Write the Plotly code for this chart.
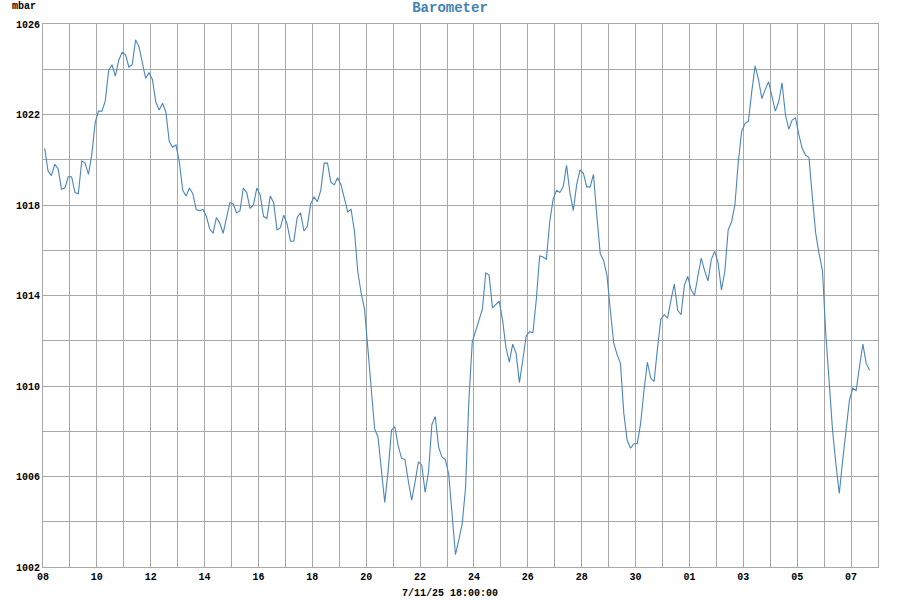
import plotly.graph_objects as go
import pandas as pd

# 3-hourly barometer readings (mbar), first sample 8 Oct 01:30
inicio = "2025-10-08 01:30"
presion = [
    1020.5, 1019.5, 1019.3, 1019.8, 1019.6, 1018.7, 1018.75, 1019.25,
    1019.25, 1018.55, 1018.5, 1019.95, 1019.85, 1019.35, 1020.25, 1021.65,
    1022.15, 1022.15, 1022.6, 1023.95, 1024.2, 1023.7, 1024.4, 1024.75,
    1024.65, 1024.1, 1024.2, 1025.3, 1025.0, 1024.3, 1023.6, 1023.85,
    1023.55, 1022.55, 1022.2, 1022.5, 1022.1, 1020.8, 1020.55, 1020.65,
    1019.9, 1018.65, 1018.4, 1018.75, 1018.5, 1017.8, 1017.75, 1017.8,
    1017.5, 1016.95, 1016.75, 1017.45, 1017.2, 1016.75, 1017.45, 1018.1,
    1018.05, 1017.65, 1017.75, 1018.75, 1018.55, 1017.85, 1018.0, 1018.75,
    1018.45, 1017.5, 1017.4, 1018.4, 1018.1, 1016.9, 1017.0, 1017.55,
    1017.15, 1016.4, 1016.4, 1017.45, 1017.65, 1016.85, 1017.05, 1018.05,
    1018.35, 1018.15, 1018.65, 1019.85, 1019.85, 1019.0, 1018.9, 1019.2,
    1018.9, 1018.25, 1017.7, 1017.8, 1016.85, 1015.05, 1014.1, 1013.4,
    1011.6, 1009.8, 1008.1, 1007.75, 1006.25, 1004.85, 1006.25, 1008.05,
    1008.2, 1007.35, 1006.8, 1006.75, 1005.8, 1004.95, 1005.75, 1006.65,
    1006.5, 1005.3, 1006.2, 1008.3, 1008.65, 1007.3, 1006.85, 1006.75,
    1006.1, 1004.2, 1002.55, 1003.2, 1003.9, 1005.5, 1009.4, 1011.95,
    1012.4, 1012.85, 1013.4, 1015.0, 1014.9, 1013.45, 1013.6, 1013.75,
    1012.9, 1011.7, 1011.05, 1011.85, 1011.45, 1010.15, 1011.15, 1012.2,
    1012.4, 1012.35, 1013.8, 1015.75, 1015.7, 1015.6, 1017.25, 1018.25,
    1018.65, 1018.55, 1018.8, 1019.75, 1018.55, 1017.75, 1018.9, 1019.55,
    1019.4, 1018.8, 1018.8, 1019.35, 1017.5, 1015.85, 1015.55, 1014.9,
    1013.35, 1011.9, 1011.4, 1011.0, 1008.8, 1007.6, 1007.25, 1007.45,
    1007.45, 1008.35, 1009.8, 1011.05, 1010.35, 1010.2, 1011.65, 1012.95,
    1013.15, 1013.0, 1013.8, 1014.5, 1013.35, 1013.15, 1014.45, 1014.85,
    1014.25, 1014.0, 1014.85, 1015.65, 1015.1, 1014.65, 1015.6, 1015.95,
    1015.45, 1014.25, 1015.05, 1016.9, 1017.25, 1018.0, 1019.9, 1021.25,
    1021.6, 1021.7, 1023.0, 1024.15, 1023.55, 1022.7, 1023.1, 1023.45,
    1022.8, 1022.15, 1022.55, 1023.4, 1022.0, 1021.35, 1021.75, 1021.85,
    1021.1, 1020.5, 1020.2, 1020.1, 1018.35, 1016.75, 1015.85, 1015.1,
    1012.3, 1010.25, 1008.05, 1006.55, 1005.25, 1006.7, 1008.05, 1009.35,
    1009.9, 1009.8, 1010.85, 1011.85, 1011.0, 1010.7,
]
tiempos = pd.date_range(inicio, periods=len(presion), freq="3h")

rango_x = ["2025-10-08", "2025-11-08"]
ticks_y = [1002, 1006, 1010, 1014, 1018, 1022, 1026]
etiqueta_x = "7/11/25 18:00:00"

DIA = 86400000
FUENTE = "Liberation Mono"
GRIS = "#a8a8a8"

fig = go.Figure()

fig.add_trace(go.Scatter(
    x=tiempos,
    y=presion,
    mode="lines",
    line=dict(color="#4a86bd", width=1.1),
    hoverinfo="x+y",
    showlegend=False,
))

fig.update_layout(
    width=900,
    height=600,
    paper_bgcolor="white",
    plot_bgcolor="white",
    margin=dict(l=43, r=22, t=24, b=33),
    title=dict(
        text="<b>Barometer</b>",
        x=0.5, xanchor="center",
        y=0.988, yanchor="middle",
        font=dict(family=FUENTE, size=14, color="#4282b4"),
    ),
    font=dict(family=FUENTE, size=10, color="black"),
    xaxis=dict(
        type="date",
        range=rango_x,
        tick0="2025-10-08",
        dtick=2 * DIA,
        tickformat="<b>%d</b>",
        showgrid=True,
        gridcolor=GRIS,
        gridwidth=1,
        minor=dict(dtick=DIA, showgrid=True, gridcolor=GRIS, gridwidth=1),
        showline=True, linecolor=GRIS, linewidth=1, mirror=True,
        ticks="", ticklen=0,
        zeroline=False,
        tickfont=dict(family=FUENTE, size=10, color="black"),
    ),
    yaxis=dict(
        range=[1002, 1026],
        tickmode="array",
        tickvals=ticks_y,
        ticktext=[f"<b>{v}</b>" for v in ticks_y],
        showgrid=True,
        gridcolor=GRIS,
        gridwidth=1,
        minor=dict(dtick=2, showgrid=True, gridcolor=GRIS, gridwidth=1),
        showline=True, linecolor=GRIS, linewidth=1, mirror=True,
        ticks="", ticklen=0,
        zeroline=False,
        tickfont=dict(family=FUENTE, size=10, color="black"),
    ),
)

fig.add_annotation(
    text="<b>mbar</b>",
    xref="paper", yref="paper",
    x=-0.0395, y=1.033, xanchor="left", yanchor="middle",
    showarrow=False,
    font=dict(family=FUENTE, size=10, color="black"),
)

fig.add_annotation(
    text=f"<b>{etiqueta_x}</b>",
    xref="paper", yref="paper",
    x=0.4874, y=-0.048, xanchor="center", yanchor="middle",
    showarrow=False,
    font=dict(family=FUENTE, size=10, color="black"),
)

# quitar el margen por defecto del <body> para que la figura quede en (0, 0)
fig.write_html(
    "out.html",
    config={"displayModeBar": False},
    post_script="document.body.style.margin='0';",
)
